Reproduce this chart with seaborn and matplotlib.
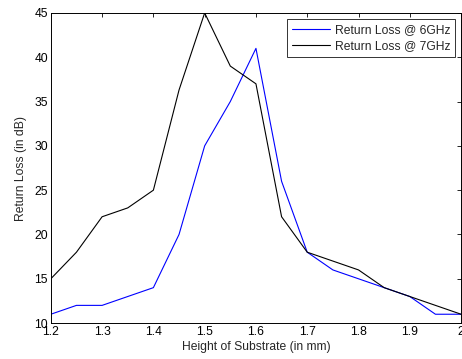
import pandas as pd
import seaborn as sns
import matplotlib.pyplot as plt
from matplotlib.ticker import FormatStrFormatter

# substrate height (mm) and return loss (dB)
height = [1.2, 1.25, 1.3, 1.35, 1.4, 1.45, 1.5, 1.55, 1.6, 1.65,
          1.7, 1.75, 1.8, 1.85, 1.9, 1.95, 2.0]
loss_6ghz = [11, 12, 12, 13, 14, 20, 30, 35, 41, 26, 18, 16, 15, 14, 13, 11, 11]
loss_7ghz = [15, 18, 22, 23, 25, 36.3, 45, 39, 37, 22, 18, 17, 16, 14, 13, 12, 11]

df = pd.DataFrame({
    "Height": height * 2,
    "Loss": loss_6ghz + loss_7ghz,
    "Series": ["Return Loss @ 6GHz"] * len(height) + ["Return Loss @ 7GHz"] * len(height),
})

sns.set_style("white")
plt.rcParams['font.family'] = ['Liberation Sans', 'DejaVu Sans']
fs = 8.7

fig = plt.figure(figsize=(4.62, 3.59), dpi=100)
ax = fig.add_axes([0.110, 0.100, 0.888, 0.864])
sns.lineplot(data=df, x="Height", y="Loss", hue="Series",
             palette=["#0000ff", "#000000"], linewidth=0.8, ax=ax)

ax.set_xlim(1.2, 2.0)
ax.set_ylim(10, 45)
ax.set_xticks([1.2, 1.3, 1.4, 1.5, 1.6, 1.7, 1.8, 1.9, 2.0])
ax.set_yticks(range(10, 50, 5))
ax.xaxis.set_major_formatter(FormatStrFormatter('%g'))
ax.tick_params(direction='in', top=True, right=True, length=3, width=0.6,
               labelsize=fs, colors='black', pad=2)
for s in ax.spines.values():
    s.set_linewidth(0.7)
    s.set_color('black')
ax.set_xlabel("Height of Substrate (in mm)", fontsize=fs, labelpad=2)
ax.set_ylabel("Return Loss (in dB)", fontsize=fs, labelpad=5)

leg = ax.legend(loc='upper right', fontsize=fs, frameon=True, fancybox=False,
                borderaxespad=0.5, handlelength=3.2, borderpad=0.4,
                labelspacing=0.35, handletextpad=0.35)
leg.get_frame().set_edgecolor('black')
leg.get_frame().set_linewidth(0.7)

fig.savefig("out.png", dpi=100)
